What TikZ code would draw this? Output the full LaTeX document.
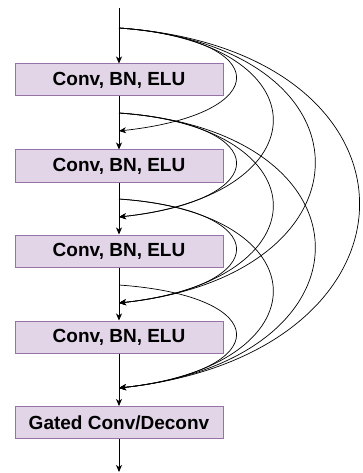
\documentclass[tikz,border=0pt]{standalone}
\usepackage{fontspec}
\setmainfont{Liberation Sans}
\usetikzlibrary{arrows.meta,calc}
\definecolor{boxfill}{HTML}{E1D5E7}
\definecolor{boxline}{HTML}{9673A6}
\begin{document}
\begin{tikzpicture}[x=1pt,y=-1pt,
  layer/.style={draw=boxline, fill=boxfill, line width=1pt, minimum width=208pt,
    minimum height=32pt, inner sep=0pt, font=\fontsize{19}{22}\selectfont\bfseries},
  flow/.style={line width=0.9pt, -{Stealth[length=7pt,width=6pt,inset=2pt]}},
  skip/.style={line width=0.7pt, -{Stealth[length=7pt,width=6pt,inset=2pt]}}]
\useasboundingbox (0,0) rectangle (362,473);
% boxes
\node[layer] (b1) at (119,80) {Conv, BN, ELU};
\node[layer] (b2) at (119,166) {Conv, BN, ELU};
\node[layer] (b3) at (119,251) {Conv, BN, ELU};
\node[layer] (b4) at (119,337) {Conv, BN, ELU};
\node[layer] (b5) at (119,422.5) {Gated Conv/Deconv};
% points on the trunk
\coordinate (top) at (119,8);
\coordinate (bot) at (119,472);
\coordinate (s0) at (119,28);
\coordinate (s1) at (119,113);
\coordinate (s2) at (119,199);
\coordinate (s3) at (119,285);
\coordinate (t1) at (119,131);
\coordinate (t2) at (119,217);
\coordinate (t3) at (119,303);
\coordinate (t4) at (119,388);
% trunk
\draw[flow] (top) -- (b1.north);
\draw[flow] (b1.south) -- (b2.north);
\draw[flow] (b2.south) -- (b3.north);
\draw[flow] (b3.south) -- (b4.north);
\draw[flow] (b4.south) -- (b5.north);
\draw[flow] (b5.south) -- (bot);
% dense skip connections
% span 1
\draw[skip] (s0) .. controls +(156,11) and +(156,-17) .. (t1);
\draw[skip] (s1) .. controls +(156,11) and +(156,-17) .. (t2);
\draw[skip] (s2) .. controls +(156,11) and +(156,-17) .. (t3);
\draw[skip] (s3) .. controls +(156,11) and +(156,-17) .. (t4);
% span 2
\draw[skip] (s0) .. controls +(205,14) and +(205,-22) .. (t2);
\draw[skip] (s1) .. controls +(205,14) and +(205,-22) .. (t3);
\draw[skip] (s2) .. controls +(205,14) and +(205,-22) .. (t4);
% span 3
\draw[skip] (s0) .. controls +(261,18) and +(261,-28) .. (t3);
\draw[skip] (s1) .. controls +(261,18) and +(261,-28) .. (t4);
% span 4
\draw[skip] (s0) .. controls +(320,22) and +(320,-35) .. (t4);
\end{tikzpicture}
\end{document}
